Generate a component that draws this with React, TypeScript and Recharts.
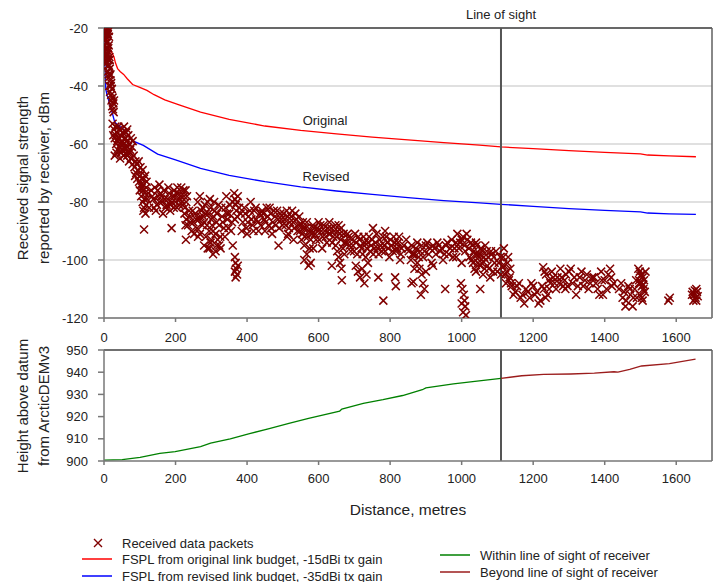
import React from "react"
import { ComposedChart, Scatter, Line, XAxis, YAxis, CartesianGrid, ReferenceLine, ReferenceDot } from "recharts"

// distance (m), received signal strength (dBm)
const packetsNear: number[][] = [
  [2, -22], [3, -26], [4, -28], [5, -24], [6, -30], [7, -21], [8, -27], [9, -25], [10, -29], [11, -22],
  [12, -31], [13, -26], [14, -23], [4, -31], [6, -25], [8, -32], [10, -20], [12, -27], [3, -29], [15, -30],
  [5, -27], [9, -22], [11, -28], [1, -24], [2, -30], [7, -29], [13, -21], [6, -23], [14, -33], [16, -31],
  [10, -33], [12, -35], [14, -37], [16, -34], [18, -38], [15, -40], [17, -42], [19, -40], [20, -43], [22, -41],
  [21, -45], [24, -44], [23, -47], [26, -46], [25, -48], [28, -45], [27, -49], [13, -36], [20, -39], [18, -36],
  [24, -53], [28, -55], [30, -58], [32, -54], [34, -60], [36, -56], [38, -62], [40, -58], [42, -55], [44, -61],
  [46, -57], [48, -63], [50, -59], [52, -56], [54, -60], [56, -54], [58, -58], [60, -62], [62, -56], [64, -59],
  [66, -61], [68, -57], [70, -60], [72, -63], [75, -58], [78, -61], [80, -59], [30, -64], [35, -63], [45, -65],
  [55, -64], [26, -57], [40, -54], [65, -55], [50, -62],
  [33, -57], [37, -59], [43, -58], [47, -60], [53, -62], [57, -61], [61, -58], [67, -63], [73, -62], [77, -65],
  [83, -64], [87, -71], [93, -72], [97, -66], [103, -74], [109, -76], [113, -79], [119, -73],
  [65, -64], [70, -66], [75, -65], [80, -67], [85, -68], [88, -66], [90, -70], [95, -69], [100, -71], [98, -73],
  [105, -72], [110, -74], [115, -71], [118, -75], [108, -69], [92, -67], [102, -68], [112, -72],
  [100, -76], [104, -78], [108, -80], [112, -82], [116, -84], [120, -79], [124, -77], [110, -83], [118, -81],
  [106, -75], [126, -82], [114, -77], [112, -89.5],
]

const packetsMid: number[][] = [
  [132, -76], [138, -79], [142, -75], [148, -81], [152, -78], [158, -77], [162, -80], [168, -76], [172, -82],
  [178, -79], [182, -77], [186, -81], [192, -78], [196, -76], [200, -80], [204, -82], [208, -77], [212, -79],
  [216, -75], [220, -81], [224, -78], [228, -76], [230, -80], [145, -83], [165, -84], [185, -83], [205, -75],
  [155, -74], [189, -89],
  [135, -78], [140, -82], [150, -76], [155, -80], [160, -78], [170, -79], [175, -81], [180, -75], [190, -80],
  [195, -82], [198, -78], [202, -77], [210, -81], [215, -78], [218, -80], [222, -76], [226, -82], [232, -78],
  [225, -84], [230, -86], [235, -88], [240, -85], [245, -90], [250, -87], [255, -84], [260, -89], [265, -86],
  [268, -91], [238, -83], [252, -91], [229, -93],
  [262, -80], [268, -78], [272, -83], [278, -85], [282, -81], [288, -88], [292, -84], [296, -79], [300, -86],
  [305, -90], [310, -83], [315, -87], [320, -81], [325, -92], [330, -85], [335, -89], [340, -82], [345, -86],
  [350, -84], [355, -90], [360, -80], [285, -92], [318, -93], [342, -78], [275, -88], [308, -80],
  [228, -88], [242, -87], [248, -83], [258, -86], [263, -92], [270, -85], [276, -82], [280, -87], [284, -84],
  [290, -80], [294, -90], [298, -82], [302, -88], [306, -85], [312, -91], [316, -84], [322, -88], [328, -82],
  [332, -87], [338, -92], [344, -84], [348, -89], [352, -81], [358, -87], [300, -93], [295, -96], [315, -95],
  [326, -96],
  [280, -95], [290, -96], [298, -94], [305, -98], [312, -97], [322, -95],
  [364, -77], [366, -79], [368, -81], [370, -83], [372, -85], [374, -78], [366, -86], [372, -80], [360, -95],
  [366, -99], [368, -101], [370, -103], [372, -105], [368, -106], [374, -102], [366, -104],
  [382, -84], [388, -87], [392, -82], [398, -89], [404, -85], [410, -80], [415, -88], [420, -83], [426, -86],
  [432, -90], [436, -84], [400, -91],
  [442, -83], [448, -86], [455, -82], [460, -88], [466, -84], [472, -87], [478, -85], [484, -83], [490, -89],
  [496, -86], [502, -84], [508, -88], [514, -85], [520, -87], [526, -83], [532, -89], [538, -86], [544, -88],
  [450, -90], [470, -91], [515, -91], [488, -95],
  [378, -82], [385, -90], [395, -84], [402, -87], [408, -83], [412, -86], [418, -90], [424, -82], [430, -87],
  [438, -88], [445, -84], [452, -87], [458, -85], [463, -82], [468, -89], [475, -83], [480, -88], [487, -86],
  [493, -84], [499, -88], [505, -86], [511, -83], [517, -89], [523, -85], [529, -87], [535, -84], [541, -90],
  [546, -85],
  [548, -90], [552, -93], [556, -87], [560, -95], [564, -89], [570, -92], [575, -96], [580, -90], [512, -92],
  [530, -93], [560, -100], [572, -102], [578, -101],
  [584, -88], [590, -91], [596, -89], [602, -93], [608, -90], [614, -88], [620, -92], [626, -89], [632, -91],
  [638, -94], [644, -90], [650, -92], [656, -88], [662, -93], [600, -87], [630, -87], [637, -102],
  [550, -88], [554, -91], [558, -89], [562, -92], [567, -87], [573, -90], [578, -93], [582, -91], [587, -89],
  [593, -93], [599, -90], [605, -88], [611, -92], [617, -90], [623, -94], [629, -91], [635, -89], [641, -92],
  [647, -88], [653, -90], [659, -91], [663, -89], [567, -98], [585, -96], [610, -96],
  [648, -95], [652, -97], [656, -99], [660, -101], [664, -103], [668, -96], [672, -98], [665, -107],
]

const packetsFar: number[][] = [
  [670, -91], [678, -94], [684, -92], [690, -97], [696, -95], [702, -91], [708, -98], [714, -93], [720, -96],
  [726, -92], [732, -99], [738, -94], [744, -97], [750, -93], [756, -96], [762, -91], [768, -98], [774, -95],
  [780, -92], [786, -97], [792, -94], [798, -99], [804, -95], [810, -92], [816, -97], [822, -94], [828, -100],
  [832, -96], [752, -89], [786, -90],
  [673, -94], [681, -91], [687, -95], [693, -93], [699, -97], [705, -94], [711, -92], [717, -95], [723, -98],
  [729, -94], [735, -96], [741, -92], [747, -95], [753, -98], [759, -94], [765, -96], [771, -93], [777, -97],
  [783, -95], [789, -92], [795, -96], [801, -93], [807, -97], [813, -94], [819, -96], [825, -92], [830, -98],
  [838, -95], [845, -93], [850, -96],
  [704, -102], [710, -104], [716, -106], [722, -103], [728, -108], [734, -105], [738, -101],
  [767, -106], [781, -114], [814, -106], [816, -109], [860, -108],
  [852, -97], [858, -100], [864, -98], [868, -103],
  [860, -95], [868, -98], [876, -94], [884, -97], [892, -99], [900, -95], [908, -98], [916, -101], [924, -96],
  [932, -94], [940, -97], [948, -100], [956, -95], [964, -98], [972, -93], [980, -96], [988, -91], [996, -94],
  [1004, -92], [1010, -97], [1016, -93], [1022, -99], [1030, -95], [1038, -98], [1046, -101], [1054, -96],
  [1062, -99], [1070, -97], [985, -99], [1000, -101], [920, -102], [1040, -94],
  [862, -98], [872, -96], [880, -99], [888, -95], [896, -97], [904, -94], [912, -96], [920, -95], [928, -98],
  [936, -95], [944, -96], [952, -98], [960, -94], [968, -96], [976, -99], [984, -94], [992, -96], [1000, -93],
  [1008, -95], [1014, -91], [1020, -96], [1026, -94], [1034, -97], [1042, -95], [1050, -98], [1058, -97],
  [1066, -95], [1074, -99], [1082, -97], [1090, -99],
  [876, -101], [882, -103], [888, -105], [892, -108], [896, -110], [900, -104], [886, -112], [865, -107.5],
  [954, -110],
  [998, -108], [1002, -110], [1006, -112], [1008, -114], [1010, -116], [1004, -118], [1012, -119], [1000, -115],
  [1052, -110],
  [1028, -100], [1036, -103], [1044, -98], [1052, -102], [1060, -105], [1068, -100], [1076, -103], [1084, -98],
  [1092, -101], [1100, -104], [1108, -99], [1114, -102], [1118, -96], [1122, -105], [1128, -101], [1132, -107],
  [1136, -103], [1080, -106], [1096, -97], [1124, -108],
  [1032, -101], [1040, -104], [1048, -99], [1056, -101], [1064, -103], [1072, -102], [1088, -104], [1104, -101],
  [1110, -105], [1116, -99], [1120, -102], [1126, -104], [1134, -106], [1130, -99], [1138, -108],
  [1140, -109], [1150, -111], [1160, -108], [1170, -112], [1180, -110], [1190, -113], [1200, -109], [1210, -111],
  [1220, -114], [1230, -110], [1240, -112], [1248, -108], [1175, -115], [1215, -115], [1228, -102.5], [1232, -104],
  [1236, -105], [1244, -107], [1252, -104], [1260, -108], [1268, -106], [1276, -103], [1284, -109], [1292, -105],
  [1264, -110],
  [1280, -106], [1290, -110], [1300, -104], [1310, -108], [1320, -112], [1330, -106], [1340, -109], [1350, -105],
  [1305, -103],
  [1145, -112], [1155, -109], [1165, -113], [1185, -111], [1195, -108], [1205, -112], [1225, -109], [1235, -113],
  [1245, -110], [1256, -106], [1272, -108], [1288, -107], [1296, -109], [1315, -106], [1325, -109], [1335, -104],
  [1345, -107], [1355, -110], [1365, -106], [1375, -108], [1392, -107], [1405, -110], [1418, -106], [1425, -108],
  [1360, -108], [1370, -106], [1380, -110], [1390, -104], [1400, -107], [1410, -105], [1420, -109], [1395, -112],
  [1415, -103], [1385, -112],
  [1446, -108], [1454, -111], [1460, -114], [1466, -109], [1472, -112], [1478, -116], [1484, -110], [1490, -113],
  [1496, -108], [1458, -116], [1440, -110], [1450, -113], [1470, -110], [1480, -113], [1488, -107],
  [1494, -103], [1498, -104], [1502, -105], [1506, -106], [1496, -107], [1500, -108], [1504, -109], [1508, -110],
  [1512, -111], [1498, -112], [1504, -113], [1510, -107], [1514, -104], [1506, -114], [1500, -105.5], [1508, -108.5],
  [1578, -114], [1582, -113],
  [1646, -111], [1650, -112], [1654, -113], [1658, -111], [1648, -114], [1656, -110], [1660, -112.5],
  [1652, -110.5], [1656, -114], [1644, -112],
]

const fsplOriginal: number[][] = [
  [7, -20], [10, -24], [14, -27], [20, -28], [28, -30], [32, -32], [38, -34], [45, -35], [55, -36], [65, -37.5],
  [80, -39.5], [100, -40.5], [120, -41.5], [140, -43], [170, -44.8], [210, -46.5], [270, -49], [350, -51.5],
  [450, -53.8], [550, -55.3], [650, -56.5], [750, -57.6], [850, -58.6], [950, -59.5], [1050, -60.4], [1110, -61],
  [1200, -61.6], [1300, -62.3], [1400, -62.9], [1500, -63.4], [1520, -63.8], [1580, -64.1], [1655, -64.4],
]

const fsplRevised: number[][] = [
  [1, -20], [2, -30], [3, -36], [5, -41], [8, -43], [12, -44.5], [18, -47], [22, -48.8], [30, -52.5], [40, -53.5],
  [55, -55], [65, -56.5], [82, -59], [110, -60.5], [150, -63.5], [200, -65.5], [270, -68.4], [350, -70.8],
  [450, -73], [550, -74.8], [650, -76.2], [750, -77.4], [850, -78.5], [950, -79.5], [1050, -80.3], [1110, -80.8],
  [1200, -81.5], [1300, -82.3], [1400, -82.9], [1500, -83.4], [1520, -83.8], [1580, -84.1], [1655, -84.3],
]

// distance (m), height (m)
const heightWithin: number[][] = [
  [0, 900.4], [51, 900.6], [101, 901.6], [156, 903.4], [199, 904.2], [270, 906.5], [298, 908], [353, 910],
  [407, 912.3], [462, 914.6], [517, 916.9], [572, 919.2], [659, 922.5], [665, 923.4], [725, 926], [780, 927.6],
  [835, 929.5], [890, 932.1], [900, 932.9], [977, 934.7], [1043, 936], [1110, 937.2],
]

const heightBeyond: number[][] = [
  [1110, 937.2], [1168, 938.4], [1229, 939], [1305, 939.2], [1371, 939.6], [1426, 940.2], [1437, 940],
  [1470, 941.3], [1503, 942.8], [1581, 943.9], [1654, 945.9],
]

const distanceTicks = [0, 200, 400, 600, 800, 1000, 1200, 1400, 1600]
const signalTicks = [-120, -100, -80, -60, -40, -20]
const heightTicks = [900, 910, 920, 930, 940, 950]
const lineOfSight = 1110

const toPts = (arr: number[][]) => arr.map(([d, v]) => ({ d, v }))
const packets = toPts([...packetsNear, ...packetsMid, ...packetsFar])

const FONT = "'Liberation Sans', Arial, sans-serif"
const TEXT = "#222"
const AXIS = "#777"
const MAROON = "#800000"
const tick = { fontSize: 13, fill: TEXT, fontFamily: FONT }

const Cross = (props: any) => {
  const { cx, cy } = props
  if (cx == null || cy == null) return null
  const s = 4
  return (
    <path
      d={`M${cx - s},${cy - s}L${cx + s},${cy + s}M${cx + s},${cy - s}L${cx - s},${cy + s}`}
      stroke={MAROON}
      strokeWidth={1.5}
      fill="none"
    />
  )
}

function AxisTitle({ lines, cy }: { lines: string[]; cy: number }) {
  return (
    <g>
      {lines.map((t, i) => (
        <text
          key={t}
          x={0}
          y={0}
          transform={`translate(${22 + i * 21},${cy}) rotate(-90)`}
          textAnchor="middle"
          dominantBaseline="central"
          fontSize={15}
          fontFamily={FONT}
          fill={TEXT}
        >
          {t}
        </text>
      ))}
    </g>
  )
}

function LegendLine({ color }: { color: string }) {
  return (
    <svg width={30} height={4} style={{ display: "block" }}>
      <line x1={0} y1={2} x2={30} y2={2} stroke={color} strokeWidth={1.5} />
    </svg>
  )
}

const legendRow = (top: number, left: number): React.CSSProperties => ({
  position: "absolute",
  top,
  left,
  display: "flex",
  alignItems: "center",
  gap: 10,
  fontSize: 13,
  fontFamily: FONT,
  color: TEXT,
  whiteSpace: "nowrap",
  height: 16,
})

export default function App() {
  return (
    <div style={{ position: "absolute", left: 0, top: 0, width: 718, height: 582, background: "#fff", overflow: "hidden" }}>
      <div style={{ position: "absolute", left: 0, top: 0 }}>
        <ComposedChart width={718} height={360} margin={{ top: 28, right: 6, bottom: 0, left: 0 }}>
          <CartesianGrid horizontal vertical={false} stroke="#d6d6d6" strokeWidth={1.5} />
          <XAxis
            type="number"
            dataKey="d"
            domain={[0, 1700]}
            ticks={distanceTicks}
            height={42}
            tick={tick}
            tickSize={4}
            tickMargin={11}
            stroke={AXIS}
            strokeWidth={1.5}
            allowDataOverflow
          />
          <YAxis
            type="number"
            dataKey="v"
            domain={[-120, -20]}
            ticks={signalTicks}
            width={104}
            tick={tick}
            tickSize={6}
            tickMargin={10}
            stroke={AXIS}
            strokeWidth={1.5}
            allowDataOverflow
            label={{ content: () => <AxisTitle lines={["Received signal strength", "reported by receiver, dBm"]} cy={178} /> }}
          />
          <ReferenceLine y={-20} stroke="#404040" strokeWidth={1.5} />
          <ReferenceLine x={1700} stroke="#606060" strokeWidth={1.5} />
          <Scatter data={packets} dataKey="v" shape={Cross} isAnimationActive={false} />
          <Line data={toPts(fsplOriginal)} dataKey="v" stroke="#ff0000" strokeWidth={1.3} dot={false} isAnimationActive={false} />
          <Line data={toPts(fsplRevised)} dataKey="v" stroke="#0000ff" strokeWidth={1.3} dot={false} isAnimationActive={false} />
          <ReferenceLine
            x={lineOfSight}
            stroke="#555"
            strokeWidth={2}
            label={{ value: "Line of sight", position: "top", offset: 9, fontSize: 13, fill: TEXT, fontFamily: FONT }}
          />
          <ReferenceDot x={618} y={-51.7} r={0} stroke="none" label={{ value: "Original", position: "center", fontSize: 13, fill: TEXT, fontFamily: FONT }} />
          <ReferenceDot x={621} y={-71} r={0} stroke="none" label={{ value: "Revised", position: "center", fontSize: 13, fill: TEXT, fontFamily: FONT }} />
        </ComposedChart>
      </div>

      <div style={{ position: "absolute", left: 0, top: 322 }}>
        <ComposedChart width={718} height={210} margin={{ top: 28, right: 6, bottom: 15, left: 0 }}>
          <XAxis
            type="number"
            dataKey="d"
            domain={[0, 1700]}
            ticks={distanceTicks}
            height={56}
            tick={tick}
            tickSize={4}
            tickMargin={9}
            stroke={AXIS}
            strokeWidth={1.5}
            label={{ value: "Distance, metres", position: "insideBottom", offset: 2, fontSize: 15.5, fill: TEXT, fontFamily: FONT }}
          />
          <YAxis
            type="number"
            dataKey="v"
            domain={[900, 950]}
            ticks={heightTicks}
            width={104}
            tick={tick}
            tickSize={6}
            tickMargin={10}
            stroke={AXIS}
            strokeWidth={1.5}
            label={{ content: () => <AxisTitle lines={["Height above datum", "from ArcticDEMv3"]} cy={84} /> }}
          />
          <ReferenceLine y={950} stroke="#404040" strokeWidth={1.5} />
          <ReferenceLine x={1700} stroke="#606060" strokeWidth={1.5} />
          <ReferenceLine x={lineOfSight} stroke="#555" strokeWidth={2} />
          <Line data={toPts(heightWithin)} dataKey="v" stroke="#008000" strokeWidth={1.3} dot={false} isAnimationActive={false} />
          <Line data={toPts(heightBeyond)} dataKey="v" stroke="#9b1c1c" strokeWidth={1.3} dot={false} isAnimationActive={false} />
        </ComposedChart>
      </div>

      <div style={legendRow(535, 92)}>
        <svg width={12} height={12} style={{ display: "block" }}>
          <path d="M2,2L10,10M10,2L2,10" stroke={MAROON} strokeWidth={1.4} />
        </svg>
        <span style={{ marginLeft: 8 }}>Received data packets</span>
      </div>
      <div style={legendRow(551, 82)}>
        <LegendLine color="#ff0000" />
        <span>FSPL from original link budget, -15dBi tx gain</span>
      </div>
      <div style={legendRow(568, 82)}>
        <LegendLine color="#0000ff" />
        <span>FSPL from revised link budget, -35dBi tx gain</span>
      </div>
      <div style={legendRow(547, 440)}>
        <LegendLine color="#008000" />
        <span>Within line of sight of receiver</span>
      </div>
      <div style={legendRow(564, 440)}>
        <LegendLine color="#9b1c1c" />
        <span>Beyond line of sight of receiver</span>
      </div>
    </div>
  )
}
